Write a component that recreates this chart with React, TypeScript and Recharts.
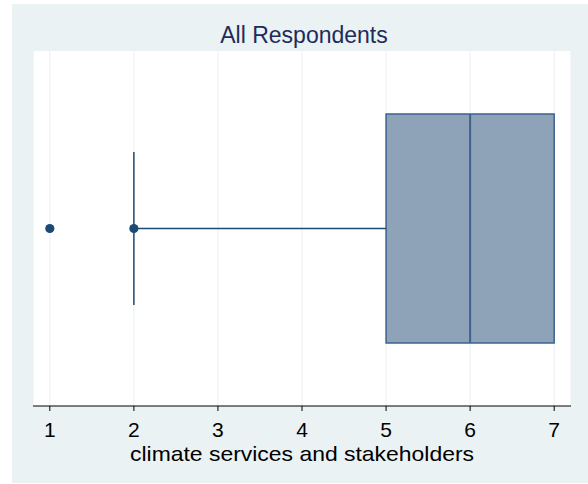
import React from "react";
import {
  ComposedChart,
  XAxis,
  YAxis,
  CartesianGrid,
  ReferenceArea,
  ReferenceLine,
  Scatter,
} from "recharts";

// ---- data ----
const categories = ["All Respondents"];
const lowerWhisker = [2];
const q1 = [5];
const median = [6];
const q3 = [7];
const upperWhisker = [7];
const outliers = [[1, 2]];
const xTicks = [1, 2, 3, 4, 5, 6, 7];
const xDomain = [0.8, 7.2];
const xLabel = "climate services and stakeholders";

// ---- style constants ----
const FONT = '"Liberation Sans", Arial, Helvetica, sans-serif';
const BOX_HALF = 0.3225;
const CAP_HALF = 0.2155;
const BOX_FILL = "#8ea3b8";
const BOX_STROKE = "#3c6390";
const WHISKER = "#1d4a75";

const W = 588;
const H = 484;

export default function App() {
  const i = 0;
  const yc = 0.5;
  const pts = outliers[i].map((v) => ({ x: v, y: yc }));
  return (
    <div style={{ position: "absolute", left: 0, top: 0, width: W, height: H }}>
      <div
        style={{
          position: "absolute",
          left: 12,
          top: 4,
          width: 576,
          height: 479,
          background: "#eaf2f3",
        }}
      />
      <div style={{ position: "absolute", left: 0, top: 0 }}>
        <ComposedChart
          width={W}
          height={H}
          margin={{ top: 51, right: 17, bottom: 18, left: 33 }}
        >
          <CartesianGrid
            fill="#ffffff"
            horizontal={false}
            stroke="#e8f0f2"
            strokeWidth={1}
          />
          <XAxis
            type="number"
            dataKey="x"
            domain={xDomain}
            ticks={xTicks}
            allowDataOverflow
            height={60}
            tickSize={5}
            tickMargin={11}
            axisLine={{ stroke: "#000", strokeWidth: 1 }}
            tickLine={{ stroke: "#000", strokeWidth: 1 }}
            tick={{ fontSize: 21, fill: "#000", fontFamily: FONT }}
            label={{
              content: (props: any) => {
                const vb = props.viewBox || {};
                return (
                  <text
                    x={vb.x + vb.width / 2}
                    y={vb.y + 54.5}
                    textAnchor="middle"
                    fontSize={21}
                    fontFamily={FONT}
                    fill="#000"
                    textLength={344}
                    lengthAdjust="spacingAndGlyphs"
                  >
                    {xLabel}
                  </text>
                );
              },
            }}
          />
          <YAxis
            type="number"
            dataKey="y"
            domain={[0, 1]}
            width={0}
            tick={false}
            tickLine={false}
            axisLine={{ stroke: "#4a4a4a", strokeWidth: 1.3 }}
          />
          <ReferenceArea
            x1={q1[i]}
            x2={q3[i]}
            y1={yc - BOX_HALF}
            y2={yc + BOX_HALF}
            fill={BOX_FILL}
            fillOpacity={1}
            stroke={BOX_STROKE}
            strokeWidth={1.5}
          />
          <ReferenceLine
            segment={[
              { x: median[i], y: yc - BOX_HALF },
              { x: median[i], y: yc + BOX_HALF },
            ]}
            stroke={BOX_STROKE}
            strokeWidth={2}
          />
          <ReferenceLine
            segment={[
              { x: lowerWhisker[i], y: yc },
              { x: q1[i], y: yc },
            ]}
            stroke={WHISKER}
            strokeWidth={1.5}
          />
          <ReferenceLine
            segment={[
              { x: lowerWhisker[i], y: yc - CAP_HALF },
              { x: lowerWhisker[i], y: yc + CAP_HALF },
            ]}
            stroke={WHISKER}
            strokeWidth={1.5}
          />
          {upperWhisker[i] > q3[i] && (
            <ReferenceLine
              segment={[
                { x: q3[i], y: yc },
                { x: upperWhisker[i], y: yc },
              ]}
              stroke={WHISKER}
              strokeWidth={1.5}
            />
          )}
          <Scatter
            data={pts}
            fill={WHISKER}
            isAnimationActive={false}
            shape={(p: any) => (
              <circle cx={p.cx} cy={p.cy} r={4.6} fill={WHISKER} />
            )}
          />
        </ComposedChart>
      </div>
      <svg
        width={W}
        height={60}
        style={{ position: "absolute", left: 0, top: 0, pointerEvents: "none" }}
      >
        <text
          x={304}
          y={43.3}
          textAnchor="middle"
          fontSize={23}
          fontFamily={FONT}
          fill="#1d2c5a"
        >
          {categories[i]}
        </text>
      </svg>
    </div>
  );
}
